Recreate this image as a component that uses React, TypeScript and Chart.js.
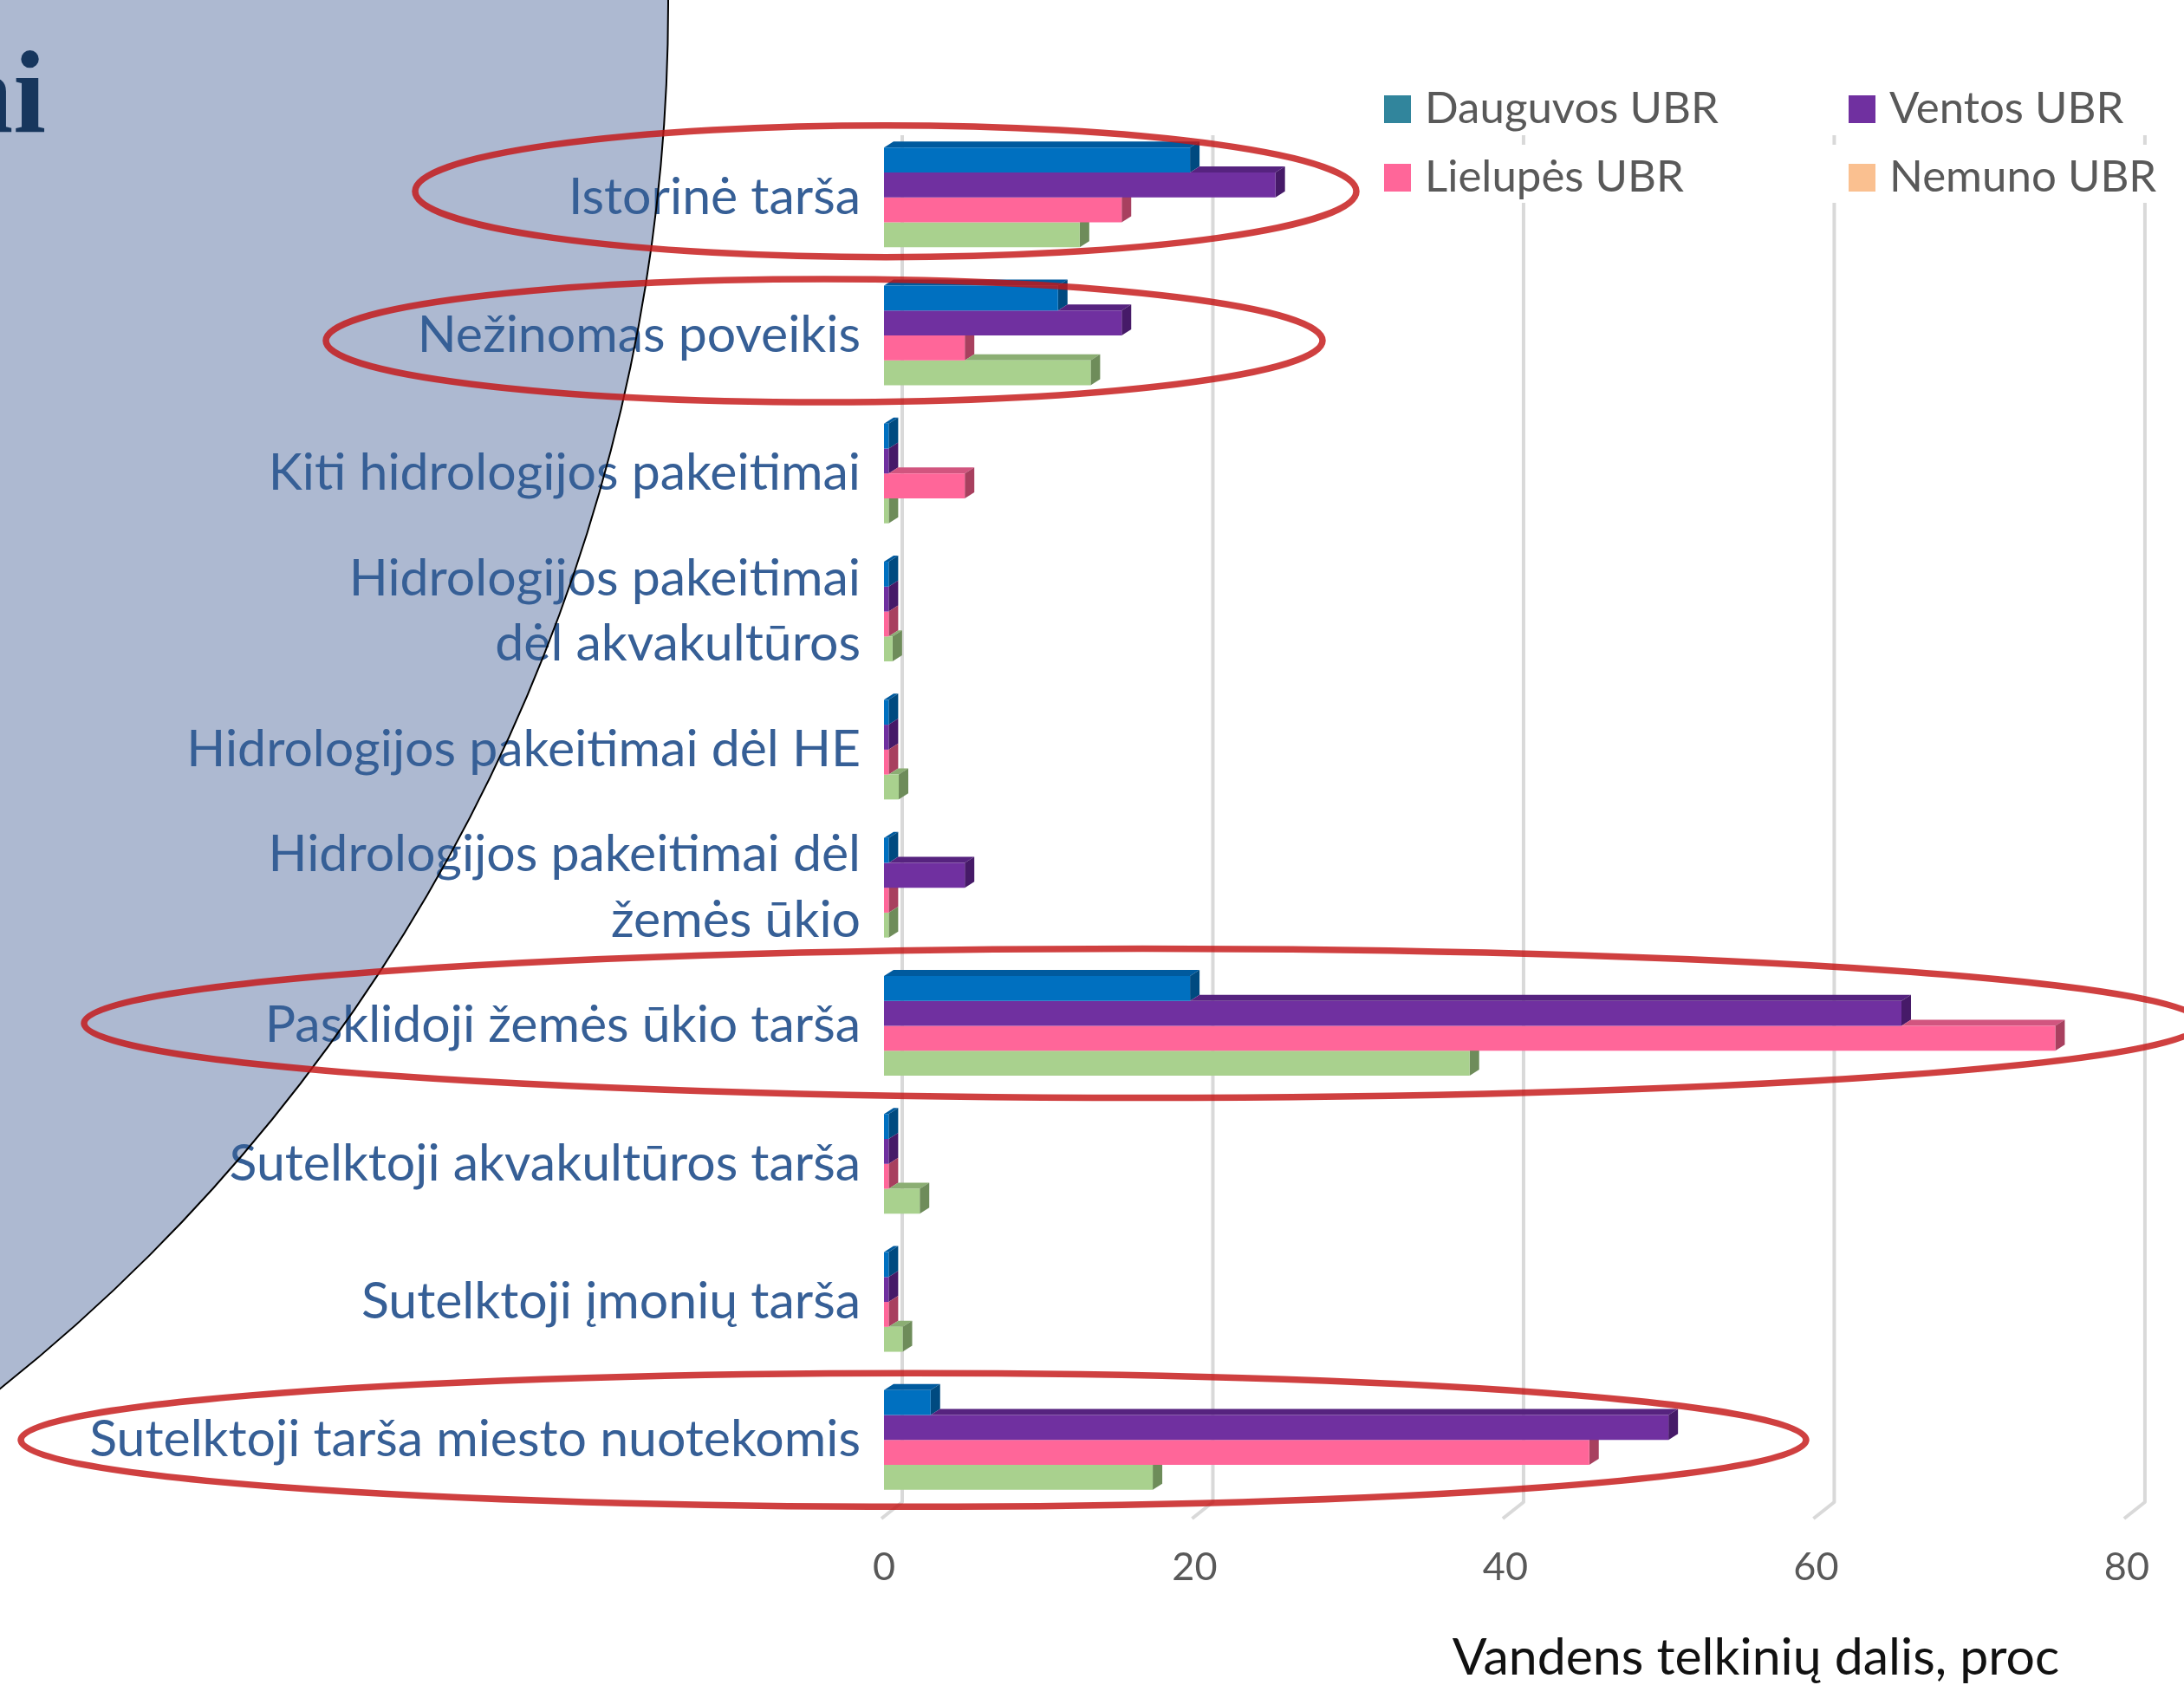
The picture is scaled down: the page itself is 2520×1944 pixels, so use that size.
import React, { useEffect, useRef } from 'react';
import { Chart, registerables } from 'chart.js';

Chart.register(...registerables);

// ---- data ----
const categories: (string | string[])[] = [
  'Istorinė tarša',
  'Nežinomas poveikis',
  'Kiti hidrologijos pakeitimai',
  ['Hidrologijos pakeitimai', 'dėl akvakultūros'],
  'Hidrologijos pakeitimai dėl HE',
  ['Hidrologijos pakeitimai dėl', 'žemės ūkio'],
  'Pasklidoji žemės ūkio tarša',
  'Sutelktoji akvakultūros tarša',
  'Sutelktoji įmonių tarša',
  'Sutelktoji tarša miesto nuotekomis',
];

const seriesNames = ['Dauguvos UBR', 'Ventos UBR', 'Lielupės UBR', 'Nemuno UBR'];

const dauguvos = [19.7, 11.2, 0.3, 0.3, 0.3, 0.3, 19.7, 0.3, 0.3, 3.0];
const ventos = [25.2, 15.3, 0.3, 0.3, 0.3, 5.2, 65.5, 0.3, 0.3, 50.5];
const lielupes = [15.3, 5.2, 5.2, 0.3, 0.3, 0.3, 75.4, 0.3, 0.3, 45.4];
const nemuno = [12.6, 13.3, 0.3, 0.55, 0.95, 0.3, 37.7, 2.3, 1.2, 17.3];

const xMin = 0;
const xMax = 80;
const xStep = 20;
const xTitle = 'Vandens telkinių dalis, proc';
const slideTitleTail = 'ai';

// ---- styling ----
const frontColors = ['#0070C0', '#7030A0', '#FF6699', '#A9D18E'];
const topColors = ['#005A9E', '#56237F', '#D1557F', '#8BAE73'];
const sideColors = ['#004A80', '#461A68', '#A8405F', '#6E8C5A'];
const legendColors = ['#31859C', '#7030A0', '#FF6699', '#FAC090'];

const LABEL_BLUE = '#365F96';
const GREY_TEXT = '#595959';
const DEPTH_X = 11;
const DEPTH_Y = 7;

// highlighted categories (ellipse outlines)
const highlights = [
  { cat: 0, left: 479, right: 1565, ry: 76, dy: -7 },
  { cat: 1, left: 376, right: 1526, ry: 71, dy: 6 },
  { cat: 6, left: 97, right: 2540, ry: 86, dy: -3 },
  { cat: 9, left: 24, right: 2084, ry: 77, dy: 0 },
];

// big background disc of the slide
const disc = { cx: -1271, cy: 4, r: 2042 };

const slidePlugin = {
  id: 'slide',
  beforeDraw(chart: any) {
    const { ctx, width, height } = chart;
    ctx.save();
    ctx.fillStyle = '#FFFFFF';
    ctx.fillRect(0, 0, width, height);
    ctx.beginPath();
    ctx.arc(disc.cx, disc.cy, disc.r, 0, Math.PI * 2);
    ctx.fillStyle = '#ADB9D1';
    ctx.fill();
    ctx.font = 'bold 136px "Liberation Serif", "DejaVu Serif", serif';
    ctx.fillStyle = '#17365D';
    ctx.textAlign = 'right';
    ctx.textBaseline = 'alphabetic';
    ctx.fillText(slideTitleTail, 53, 152);
    ctx.restore();
  },
  beforeDatasetsDraw(chart: any) {
    const { ctx } = chart;
    ctx.save();
    ctx.beginPath();
    ctx.arc(disc.cx, disc.cy, disc.r, 0, Math.PI * 2);
    ctx.strokeStyle = '#000000';
    ctx.lineWidth = 2;
    ctx.stroke();
    ctx.restore();
  },
};

// back-wall gridlines of the pseudo 3D plot
const wallGridPlugin = {
  id: 'wallGrid',
  beforeDatasetsDraw(chart: any) {
    const { ctx, chartArea, scales } = chart;
    const x = scales.x;
    ctx.save();
    ctx.strokeStyle = '#D9D9D9';
    ctx.lineWidth = 4;
    ctx.lineJoin = 'round';
    x.ticks.forEach((t: any) => {
      const px = x.getPixelForValue(t.value);
      ctx.beginPath();
      ctx.moveTo(px + 21, chartArea.top + 8);
      ctx.lineTo(px + 21, chartArea.bottom - 8);
      ctx.lineTo(px - 3, chartArea.bottom + 11);
      ctx.stroke();
    });
    ctx.restore();
  },
};

// top and side faces of the bars
const bar3dPlugin = {
  id: 'bar3d',
  beforeDatasetsDraw(chart: any) {
    const { ctx } = chart;
    const metas = chart.data.datasets.map((_: any, i: number) => chart.getDatasetMeta(i));
    ctx.save();
    metas.forEach((meta: any, di: number) => {
      meta.data.forEach((bar: any, idx: number) => {
        const { x, y, base, height } = bar.getProps(['x', 'y', 'base', 'height'], true);
        const top = y - height / 2;
        const bottom = y + height / 2;
        const x0 = Math.min(base, x);
        const x1 = Math.max(base, x);
        let from = x0;
        if (di > 0) {
          const above = metas[di - 1].data[idx].getProps(['x'], true).x;
          from = Math.max(x0, above);
        }
        if (x1 > from) {
          ctx.beginPath();
          ctx.moveTo(from, top);
          ctx.lineTo(x1, top);
          ctx.lineTo(x1 + DEPTH_X, top - DEPTH_Y);
          ctx.lineTo(from + DEPTH_X, top - DEPTH_Y);
          ctx.closePath();
          ctx.fillStyle = topColors[di];
          ctx.fill();
        }
        ctx.beginPath();
        ctx.moveTo(x1, top);
        ctx.lineTo(x1 + DEPTH_X, top - DEPTH_Y);
        ctx.lineTo(x1 + DEPTH_X, bottom - DEPTH_Y);
        ctx.lineTo(x1, bottom);
        ctx.closePath();
        ctx.fillStyle = sideColors[di];
        ctx.fill();
      });
    });
    ctx.restore();
  },
};

// two-column legend, axis title and highlight ellipses
const overlayPlugin = {
  id: 'overlay',
  afterDraw(chart: any) {
    const { ctx, scales } = chart;
    ctx.save();

    // legend
    const colX = [1597, 2133];
    const rowBase = [142, 221];
    ctx.fillStyle = '#FFFFFF';
    ctx.fillRect(1585, 167, 935, 67);
    ctx.font = '51px Lato';
    ctx.textAlign = 'left';
    ctx.textBaseline = 'alphabetic';
    chart.data.datasets.forEach((ds: any, i: number) => {
      const cx = colX[i % 2];
      const by = rowBase[Math.floor(i / 2)];
      ctx.fillStyle = legendColors[i];
      ctx.fillRect(cx, by - 32, 31, 32);
      ctx.fillStyle = GREY_TEXT;
      ctx.fillText(ds.label, cx + 47, by);
    });

    // value axis title
    ctx.font = '59px Lato';
    ctx.fillStyle = '#111111';
    ctx.textAlign = 'center';
    ctx.fillText(xTitle, 2026, 1932);

    // ellipses around the highlighted categories
    const yScale = scales.y;
    ctx.strokeStyle = 'rgba(196, 22, 22, 0.82)';
    ctx.lineWidth = 7.5;
    highlights.forEach((h) => {
      const cy = yScale.getPixelForValue(h.cat) + h.dy;
      ctx.beginPath();
      ctx.ellipse((h.left + h.right) / 2, cy, (h.right - h.left) / 2, h.ry, 0, 0, Math.PI * 2);
      ctx.stroke();
    });
    ctx.restore();
  },
};

export default function App() {
  const canvasRef = useRef<HTMLCanvasElement>(null);

  useEffect(() => {
    let chart: Chart | null = null;
    let cancelled = false;
    const build = () => {
      if (cancelled || !canvasRef.current) return;
      const series = [dauguvos, ventos, lielupes, nemuno];
      chart = new Chart(canvasRef.current, {
        type: 'bar',
        data: {
          labels: categories,
          datasets: series.map((values, i) => ({
            label: seriesNames[i],
            data: values,
            backgroundColor: frontColors[i],
            borderWidth: 0,
            barPercentage: 1,
            categoryPercentage: 0.722,
          })),
        },
        options: {
          indexAxis: 'y',
          responsive: false,
          animation: false,
          devicePixelRatio: 1,
          events: [],
          layout: { padding: { left: 0, top: 148, right: 62, bottom: 0 } },
          plugins: {
            legend: { display: false },
            tooltip: { enabled: false },
            title: { display: false },
          },
          scales: {
            x: {
              type: 'linear',
              min: xMin,
              max: xMax,
              afterFit: (scale: any) => {
                scale.height = 203;
              },
              grid: { display: false, drawTicks: false },
              border: { display: false },
              ticks: {
                stepSize: xStep,
                color: GREY_TEXT,
                font: { family: 'Lato', size: 45 },
                padding: 40,
                maxRotation: 0,
              },
            },
            y: {
              type: 'category',
              afterFit: (scale: any) => {
                scale.width = 1020;
              },
              grid: { display: false, drawTicks: false },
              border: { display: false },
              ticks: {
                color: LABEL_BLUE,
                font: { family: 'Lato', size: 59, lineHeight: 1.28 },
                padding: 27,
                autoSkip: false,
              },
            },
          },
        },
        plugins: [slidePlugin, wallGridPlugin, bar3dPlugin, overlayPlugin],
      });
    };
    const fontsReady = (document as any).fonts
      ? Promise.all([
          (document as any).fonts.load('59px Lato'),
          (document as any).fonts.load('bold 136px "Liberation Serif"'),
        ]).catch(() => null)
      : Promise.resolve(null);
    fontsReady.then(build);
    return () => {
      cancelled = true;
      if (chart) chart.destroy();
    };
  }, []);

  return (
    <div
      style={{
        position: 'fixed',
        left: 0,
        top: 0,
        width: 2520,
        height: 1944,
        background: '#FFFFFF',
        overflow: 'hidden',
      }}
    >
      <canvas
        ref={canvasRef}
        width={2520}
        height={1944}
        style={{ display: 'block', width: '2520px', height: '1944px' }}
      />
    </div>
  );
}
